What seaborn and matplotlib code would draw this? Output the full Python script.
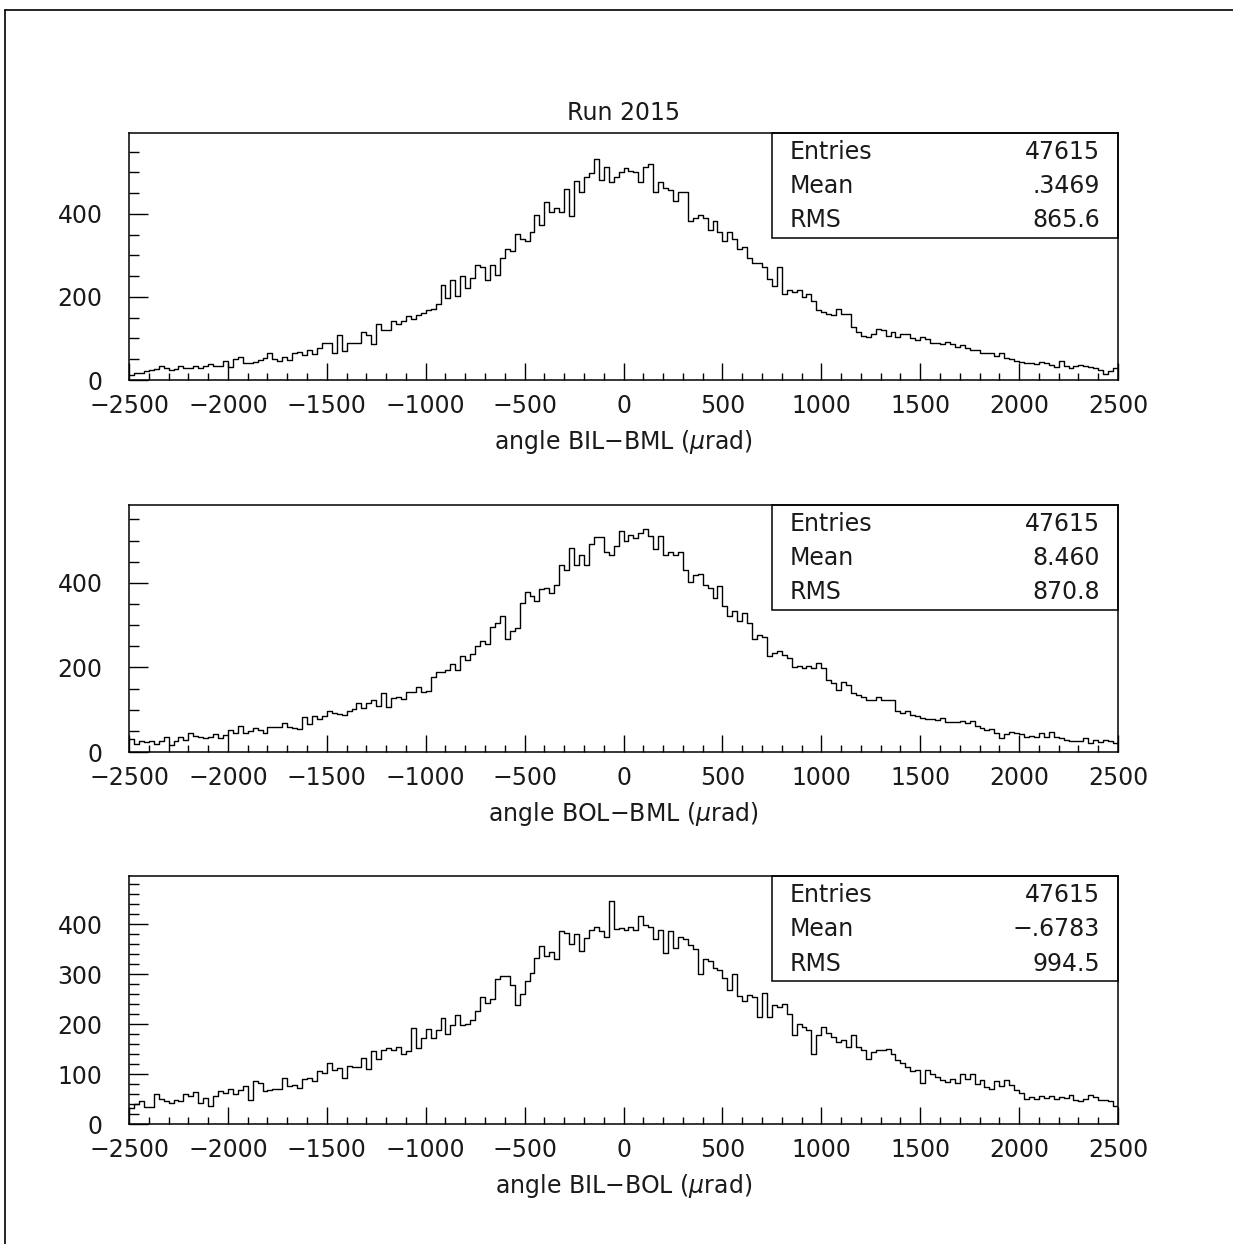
import numpy as np
import pandas as pd
import matplotlib
matplotlib.use("Agg")
import matplotlib.pyplot as plt
from matplotlib.patches import Rectangle
from matplotlib.lines import Line2D
from matplotlib.ticker import MultipleLocator
import seaborn as sns

# 200 bins of 25 urad from -2500 to 2500 (bin centres)
centers = np.arange(-2487.5, 2500, 25)

bil_bml = [
    12, 18, 18, 22, 24, 26, 34, 28, 24, 26,
    34, 28, 28, 34, 30, 34, 38, 34, 33, 46,
    32, 50, 56, 40, 40, 44, 48, 54, 64, 50,
    46, 56, 48, 66, 68, 60, 72, 62, 76, 90,
    88, 66, 108, 70, 88, 90, 90, 116, 108, 86,
    136, 120, 120, 142, 134, 142, 154, 146, 156, 162,
    168, 172, 182, 228, 198, 242, 202, 250, 222, 246,
    276, 272, 240, 278, 254, 294, 316, 310, 352, 340,
    336, 356, 398, 374, 428, 404, 414, 404, 460, 396,
    480, 454, 490, 498, 532, 482, 512, 478, 490, 500,
    510, 504, 500, 478, 514, 520, 454, 476, 462, 458,
    432, 454, 454, 382, 390, 398, 390, 362, 384, 356,
    336, 356, 340, 316, 320, 294, 282, 282, 272, 244,
    226, 272, 206, 218, 212, 216, 200, 206, 190, 168,
    164, 160, 156, 172, 160, 158, 128, 116, 106, 104,
    110, 122, 120, 106, 116, 104, 110, 110, 100, 96,
    104, 98, 88, 88, 86, 92, 86, 80, 84, 76,
    72, 72, 66, 64, 64, 58, 66, 54, 50, 46,
    44, 42, 40, 38, 44, 40, 36, 32, 46, 34,
    30, 34, 36, 34, 32, 28, 24, 14, 22, 30,
]

bol_bml = [
    30, 19, 27, 24, 27, 18, 27, 35, 17, 27,
    35, 28, 46, 39, 35, 34, 36, 42, 34, 40,
    52, 44, 62, 46, 50, 56, 52, 46, 58, 58,
    60, 68, 60, 56, 54, 82, 66, 84, 78, 84,
    96, 93, 90, 88, 98, 102, 116, 104, 116, 124,
    108, 139, 106, 127, 131, 126, 142, 143, 153, 142,
    145, 177, 188, 190, 194, 209, 194, 226, 217, 232,
    250, 262, 256, 295, 305, 322, 266, 287, 293, 353,
    378, 368, 358, 386, 388, 376, 396, 441, 431, 482,
    441, 466, 441, 492, 508, 509, 474, 466, 487, 522,
    500, 512, 506, 518, 528, 510, 479, 511, 466, 474,
    466, 474, 431, 403, 419, 422, 396, 388, 364, 392,
    345, 321, 333, 309, 328, 306, 266, 277, 273, 226,
    234, 238, 230, 222, 201, 204, 199, 204, 199, 210,
    199, 171, 164, 147, 166, 159, 139, 135, 131, 123,
    123, 130, 123, 122, 122, 98, 92, 96, 88, 84,
    80, 77, 78, 76, 80, 72, 70, 70, 74, 68,
    74, 62, 57, 52, 55, 44, 34, 42, 48, 44,
    42, 36, 39, 35, 44, 35, 47, 36, 32, 28,
    27, 27, 25, 32, 22, 28, 23, 28, 25, 22,
]

bil_bol = [
    33, 40, 47, 35, 35, 60, 50, 47, 43, 48,
    46, 61, 57, 65, 43, 52, 37, 56, 66, 63,
    71, 60, 68, 77, 48, 87, 83, 67, 69, 70,
    71, 93, 76, 79, 73, 91, 93, 87, 106, 103,
    123, 109, 113, 93, 116, 115, 115, 133, 111, 146,
    130, 148, 153, 148, 155, 141, 146, 193, 153, 172,
    191, 173, 189, 213, 181, 198, 219, 198, 200, 208,
    227, 255, 243, 251, 290, 297, 297, 279, 238, 261,
    287, 303, 333, 357, 336, 345, 331, 387, 383, 360,
    381, 347, 373, 388, 395, 386, 375, 446, 391, 393,
    388, 395, 388, 417, 398, 395, 370, 389, 343, 386,
    353, 375, 371, 358, 351, 301, 330, 327, 313, 309,
    293, 269, 300, 256, 246, 259, 255, 215, 263, 215,
    238, 235, 241, 221, 178, 201, 195, 188, 141, 178,
    195, 183, 175, 165, 168, 155, 178, 155, 148, 131,
    145, 148, 148, 150, 140, 128, 123, 115, 106, 108,
    83, 108, 100, 95, 89, 85, 91, 83, 100, 91,
    101, 81, 89, 75, 71, 86, 76, 88, 78, 68,
    63, 51, 55, 51, 56, 53, 57, 51, 55, 52,
    58, 48, 46, 51, 58, 55, 48, 48, 46, 36,
]

xlabels = [r"angle BIL$-$BML ($\mu$rad)", r"angle BOL$-$BML ($\mu$rad)",
           r"angle BIL$-$BOL ($\mu$rad)"]
entries = ["47615", "47615", "47615"]
means = [".3469", "8.460", "\u2212.6783"]
rms = ["865.6", "870.8", "994.5"]
ymax = [595, 584, 496]
ymajor = [200, 200, 100]
yminor = [50, 50, 20]

sns.set_style("ticks")
plt.rcParams['font.family'] = ['DejaVu Sans']
plt.rcParams['mathtext.fontset'] = 'dejavusans'
plt.rcParams['text.color'] = '#1a1a1a'
plt.rcParams['axes.labelcolor'] = '#1a1a1a'
plt.rcParams['xtick.color'] = 'black'
plt.rcParams['ytick.color'] = 'black'
plt.rcParams['xtick.labelcolor'] = '#1a1a1a'
plt.rcParams['ytick.labelcolor'] = '#1a1a1a'
plt.rcParams['axes.edgecolor'] = 'black'

W, H = 1233, 1244
fig = plt.figure(figsize=(W / 100, H / 100), dpi=100)

# page frame: top and left edges only
fig.add_artist(Line2D([5 / W, 1.0], [1 - 10 / H, 1 - 10 / H], transform=fig.transFigure,
                      color="black", linewidth=1.2))
fig.add_artist(Line2D([5 / W, 5 / W], [0.0, 1 - 10 / H], transform=fig.transFigure,
                      color="black", linewidth=1.2))

ax_left, ax_w = 129 / W, 989 / W
tops = [133, 505, 876]
heights = [247, 247, 248]
series = [bil_bml, bol_bml, bil_bol]
fs = 17

for i in range(3):
    df = pd.DataFrame({"angle": centers, "count": series[i]})
    bottom = 1 - (tops[i] + heights[i]) / H
    ax = fig.add_axes([ax_left, bottom, ax_w, heights[i] / H])
    sns.histplot(data=df, x="angle", weights="count", bins=200, binrange=(-2500, 2500),
                 element="step", fill=False, color="black", linewidth=1.0, ax=ax)
    ax.set_xlim(-2500, 2500)
    ax.set_ylim(0, ymax[i])
    ax.xaxis.set_major_locator(MultipleLocator(500))
    ax.xaxis.set_minor_locator(MultipleLocator(100))
    ax.yaxis.set_major_locator(MultipleLocator(ymajor[i]))
    ax.yaxis.set_minor_locator(MultipleLocator(yminor[i]))
    ax.tick_params(axis="x", which="major", direction="in", length=12, width=1.0,
                   labelsize=fs, pad=10, top=False)
    ax.tick_params(axis="x", which="minor", direction="in", length=5, width=1.0, top=False)
    ax.tick_params(axis="y", which="major", direction="in", length=14, width=1.0,
                   labelsize=fs, pad=19, right=False)
    ax.tick_params(axis="y", which="minor", direction="in", length=7, width=1.0, right=False)
    for s in ax.spines.values():
        s.set_visible(True)
        s.set_linewidth(1.1)
    ax.set_ylabel("")
    ax.set_xlabel(xlabels[i], fontsize=fs, labelpad=7)

    # statistics box
    ax.add_patch(Rectangle((0.650, 0.575), 0.350, 0.425, transform=ax.transAxes,
                           fill=False, edgecolor="black", linewidth=1.1, clip_on=False))
    for yy, lab, val in zip([0.925, 0.785, 0.647], ["Entries", "Mean", "RMS"],
                            [entries[i], means[i], rms[i]]):
        ax.text(0.668, yy, lab, transform=ax.transAxes, fontsize=fs, va="center", ha="left")
        ax.text(0.982, yy, val, transform=ax.transAxes, fontsize=fs, va="center", ha="right")

fig.text(624 / W, 1 - 113 / H, "Run 2015", fontsize=fs, ha="center", va="center")

fig.savefig("out.png", dpi=100)
